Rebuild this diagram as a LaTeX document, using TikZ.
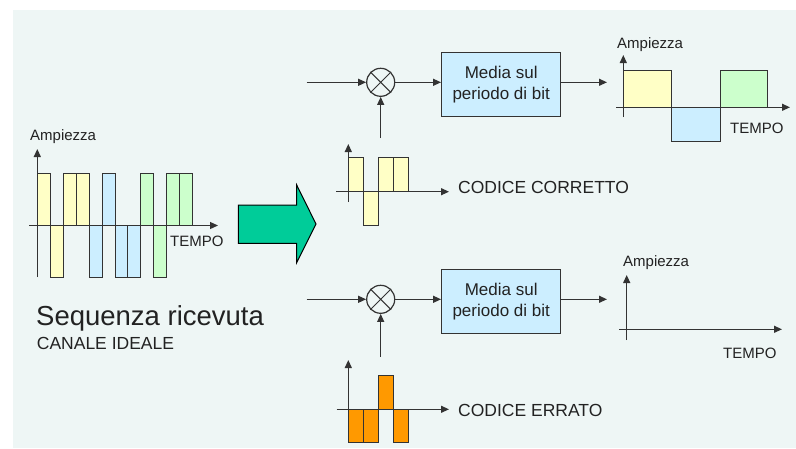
\documentclass[tikz,border=0pt]{standalone}
\usepackage{fontspec}
\setmainfont{Liberation Sans}
\usetikzlibrary{arrows.meta}
\definecolor{bgpanel}{HTML}{EEF6F5}
\definecolor{ink}{HTML}{222222}
\definecolor{lineclr}{HTML}{333333}
\definecolor{bitY}{HTML}{FFFFC6}
\definecolor{bitB}{HTML}{CCEEFF}
\definecolor{bitG}{HTML}{CCFFCC}
\definecolor{bitO}{HTML}{FF9900}
\definecolor{bigarrow}{HTML}{00CC99}
\definecolor{boxfill}{HTML}{CCEEFF}
\tikzset{
  axis/.style={draw=lineclr, line width=1.2pt, -{Triangle[length=8pt,width=7pt]}},
  sig/.style={draw=lineclr, line width=1.2pt, -{Triangle[length=8pt,width=7pt]}},
  bar/.style={draw=lineclr, line width=1pt},
  mixer/.style={circle, draw=lineclr, line width=1.2pt, minimum size=28pt, inner sep=0pt},
  avgbox/.style={draw=lineclr, line width=1.3pt, fill=boxfill, minimum width=119pt,
    minimum height=64pt, align=center, font=\fontsize{17}{21}\selectfont, text=ink},
  lbl/.style={anchor=west, inner sep=0pt, text=ink},
  small/.style={lbl, font=\fontsize{15}{18}\selectfont},
  codelbl/.style={lbl, font=\fontsize{17.5}{20}\selectfont},
}
\begin{document}
\begin{tikzpicture}[x=1pt, y=-1pt]
  \useasboundingbox (0,0) rectangle (796,448);
  \fill[white] (0,0) rectangle (796,448);
  \fill[bgpanel] (13,10) rectangle (796,448);

  % ---- received sequence (ideal channel) ----
  \foreach \i/\s/\c in {0/1/bitY,1/-1/bitY,2/1/bitY,3/1/bitY,
                        4/-1/bitB,5/1/bitB,6/-1/bitB,7/-1/bitB,
                        8/1/bitG,9/-1/bitG,10/1/bitG,11/1/bitG}
    \path[bar, fill=\c] ({37.3+\i*12.95},225.5) rectangle ({37.3+(\i+1)*12.95},{225.5-\s*52});
  \draw[axis] (37.3,277) -- (37.3,149);
  \draw[axis] (29,225.5) -- (218,225.5);
  \node[small] (ampL) at (30,137) {Ampiezza};
  \node[small] (tempoL) at (170,241.7) {TEMPO};
  \node[lbl, font=\fontsize{27.5}{32}\selectfont] (seq) at (36,318.3) {Sequenza ricevuta};
  \node[lbl, font=\fontsize{17.5}{20}\selectfont] (canale) at (36.7,343.3) {CANALE IDEALE};

  % ---- big arrow ----
  \draw[draw=black, line width=1pt, fill=bigarrow]
    (238.3,205) -- (296.7,205) -- (296.7,185) -- (316,224) -- (296.7,262.7)
    -- (296.7,243.3) -- (238.3,243.3) -- cycle;

  % ---- upper branch: correct code ----
  \coordinate (inA) at (306.7,82.3);
  \node[mixer] (mixA) at (380.7,82.3) {};
  \draw[lineclr, line width=1pt] (mixA.45) -- (mixA.225) (mixA.135) -- (mixA.315);
  \node[avgbox] (avgA) at (501.2,84.2) {Media sul\\periodo di bit};
  \coordinate (outA) at (607,82.3);
  \coordinate (codeA) at (380.7,138);
  \draw[sig] (inA) -- (mixA);
  \draw[sig] (mixA) -- (avgA.west |- mixA);
  \draw[sig] (avgA.east |- outA) -- (outA);
  \draw[sig] (codeA) -- (mixA);

  \foreach \i/\s in {0/1,1/-1,2/1,3/1}
    \path[bar, fill=bitY] ({348.3+\i*15},191.7) rectangle ({348.3+(\i+1)*15},{191.7-\s*34});
  \draw[axis] (348.3,202) -- (348.3,144);
  \draw[axis] (336,191.7) -- (449,191.7);
  \node[codelbl] (okcode) at (458,187.7) {CODICE CORRETTO};

  % averaged output, upper branch
  \path[bar, fill=bitY] (623.3,107.3) rectangle (671.7,70.7);
  \path[bar, fill=bitB] (671.7,107.3) rectangle (720,141.7);
  \path[bar, fill=bitG] (720,107.3) rectangle (767.7,70.7);
  \draw[axis] (623.3,117) -- (623.3,55);
  \draw[axis] (616,107.3) -- (790,107.3);
  \node[small] (ampA) at (617,45) {Ampiezza};
  \node[small] (tempoA) at (730,128) {TEMPO};

  % ---- lower branch: wrong code ----
  \coordinate (inB) at (306.7,299.3);
  \node[mixer] (mixB) at (380.7,299.3) {};
  \draw[lineclr, line width=1pt] (mixB.45) -- (mixB.225) (mixB.135) -- (mixB.315);
  \node[avgbox] (avgB) at (501.2,301.3) {Media sul\\periodo di bit};
  \coordinate (outB) at (607,299.3);
  \coordinate (codeB) at (380.7,356.7);
  \draw[sig] (inB) -- (mixB);
  \draw[sig] (mixB) -- (avgB.west |- mixB);
  \draw[sig] (avgB.east |- outB) -- (outB);
  \draw[sig] (codeB) -- (mixB);

  \foreach \i/\s in {0/-1,1/-1,2/1,3/-1}
    \path[bar, fill=bitO] ({348.3+\i*15},409.3) rectangle ({348.3+(\i+1)*15},{409.3-\s*33.5});
  \draw[axis] (348.3,412) -- (348.3,360);
  \draw[axis] (336.7,409.3) -- (449,409.3);
  \node[codelbl] (badcode) at (458,410) {CODICE ERRATO};

  % averaged output, lower branch (zero)
  \draw[axis] (626.7,340) -- (626.7,275);
  \draw[axis] (619.3,329.3) -- (782,329.3);
  \node[small] (ampB) at (623,262.7) {Ampiezza};
  \node[small] (tempoB) at (723,353.3) {TEMPO};
\end{tikzpicture}
\end{document}
